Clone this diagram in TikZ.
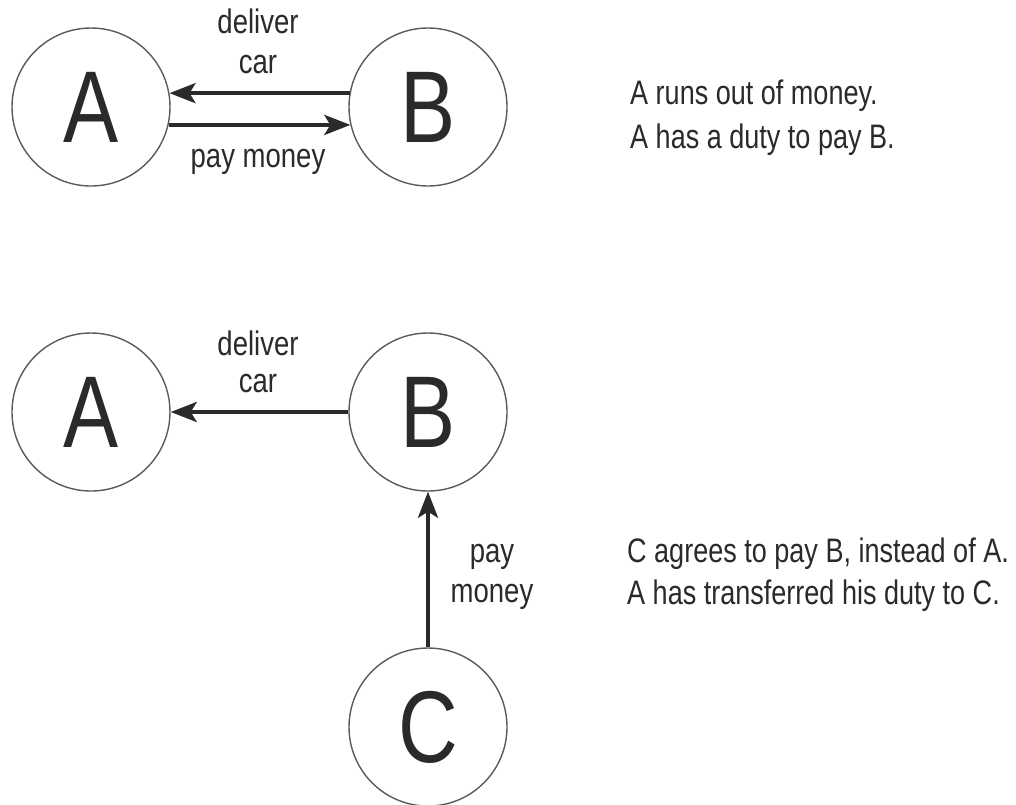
\documentclass[tikz,border=0pt]{standalone}
\usepackage{fontspec}
\setmainfont[FakeStretch=0.81]{Liberation Sans}
\newfontfamily\notefont[FakeStretch=0.795]{Liberation Sans}
\usetikzlibrary{arrows.meta}
\definecolor{ink}{HTML}{2A2A2A}
\definecolor{ring}{HTML}{5A5A5A}
\tikzset{
  party/.style={circle, draw=ring, line width=1.4pt, minimum size=158pt, inner sep=0pt,
    text=ink, font=\fontsize{102}{110}\selectfont},
  flow/.style={line width=4pt, draw=ink, -{Stealth[length=26pt,width=20pt,inset=6pt]}},
  lbl/.style={text=ink, font=\fontsize{34}{40}\selectfont, inner sep=0pt, anchor=base},
  note/.style={text=ink, font=\notefont\fontsize{34}{40}\selectfont, inner sep=0pt, anchor=base west},
}
\begin{document}
\begin{tikzpicture}[x=1pt,y=1pt]
\useasboundingbox (0,0) rectangle (1016,-804);
% top scene
\node[party] (A1) at (91,-107) {A};
\node[party] (B1) at (428,-107) {B};
\draw[flow] (B1.170) -- (A1.10);
\draw[flow] (A1.-13) -- (B1.193);
\node[lbl] (l1) at (258,-33) {deliver};
\node[lbl] (l2) at (258,-73) {car};
\node[lbl] (l3) at (258,-167) {pay money};
\node[note] (n1) at (630,-104) {A runs out of money.};
\node[note] (n2) at (630,-148) {A has a duty to pay B.};
% bottom scene
\node[party] (A2) at (91,-412) {A};
\node[party] (B2) at (428,-412) {B};
\node[party] (C2) at (428,-727) {C};
\draw[flow] (B2.west) -- (A2.east);
\draw[flow] (C2.north) -- (B2.south);
\node[lbl] (l4) at (258,-355) {deliver};
\node[lbl] (l5) at (258,-392) {car};
\node[lbl] (l6) at (492,-562) {pay};
\node[lbl] (l7) at (492,-602) {money};
\node[note] (n3) at (627,-562) {C agrees to pay B, instead of A.};
\node[note] (n4) at (627,-604) {A has transferred his duty to C.};
\end{tikzpicture}
\end{document}
